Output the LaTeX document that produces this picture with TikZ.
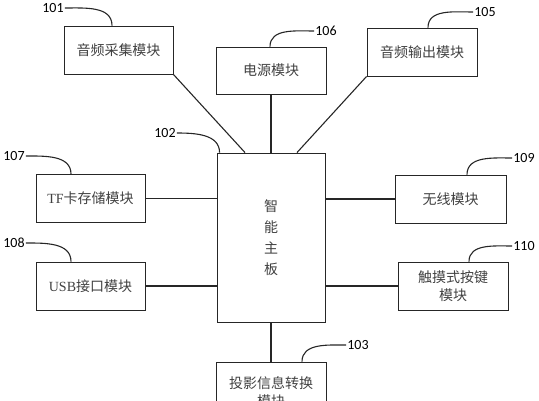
\documentclass[tikz,border=0pt]{standalone}
\usepackage{fontspec}
\setmainfont{Liberation Serif}
\newfontfamily\cjk{Noto Sans CJK SC}
\newfontfamily\numfont{Carlito}
\begin{document}
\begin{tikzpicture}[x=1pt,y=-1pt,
  box/.style={draw=black!85, line width=0.9pt, minimum width=109pt, minimum height=48pt, inner sep=1pt, align=center, font=\cjk\fontsize{14}{18}\selectfont, text=black!75},
  lbl/.style={font=\numfont\fontsize{14}{14}\selectfont, inner sep=1pt},
  conn/.style={line width=1.1pt, black!85},
  lead/.style={line width=1.1pt, black!85}]
\useasboundingbox (0,0) rectangle (539,400);
\begin{scope}
\clip (0,0) rectangle (539,400);
% boxes
\node[box] (b101) at (118.5,50) {音频采集模块};
\node[box, minimum width=110pt, minimum height=47pt] (b106) at (271,70.5) {电源模块};
\node[box, minimum width=110pt] (b105) at (422,52) {音频输出模块};
\node[box, minimum width=108pt, minimum height=169pt, font=\cjk\fontsize{14}{21}\selectfont] (main) at (271,237.5) {智\\能\\主\\板};
\node[box] (b107) at (90.5,198.5) {{\rmfamily TF}卡存储模块};
\node[box] (b108) at (90.5,286) {{\rmfamily USB}接口模块};
\node[box, minimum width=111pt] (b109) at (450.5,199) {无线模块};
\node[box, minimum width=110pt] (b110) at (453,286) {触摸式按键\\模块};
\node[box, minimum width=110pt, minimum height=60pt] (b103) at (271,392) {投影信息转换\\模块};
% labels
\node[lbl] (l101) at (53,8) {101};
\node[lbl] (l106) at (326,31) {106};
\node[lbl] (l105) at (485,12) {105};
\node[lbl] (l102) at (165,133) {102};
\node[lbl] (l107) at (14,156) {107};
\node[lbl] (l108) at (14,243) {108};
\node[lbl] (l109) at (524,158) {109};
\node[lbl] (l110) at (524,246) {110};
\node[lbl] (l103) at (358,345) {103};
% connectors
\draw[conn] (b101.south east) -- ([xshift=-26pt]main.north);
\draw[conn] (b106.south) -- (main.north);
\draw[conn] (b105.south west) -- ([xshift=26pt]main.north);
\draw[conn] (b107.east) -- (b107.east -| main.west);
\draw[conn] (b108.east) -- (b108.east -| main.west);
\draw[conn] (b109.west) -- (b109.west -| main.east);
\draw[conn] (b110.west) -- (b110.west -| main.east);
\draw[conn] (main.south) -- (b103.north);
% leaders
\draw[lead] (l101.east) to[out=0,in=90] ([xshift=-6.5pt]b101.north);
\draw[lead] (l106.west) to[out=180,in=90] ([xshift=-1pt]b106.north);
\draw[lead] (l105.west) to[out=180,in=90] ([xshift=6pt]b105.north);
\draw[lead] (l102.east) to[out=0,in=90] ([xshift=3pt]main.north west);
\draw[lead] (l107.east) to[out=0,in=90] ([xshift=-19.5pt]b107.north);
\draw[lead] (l108.east) to[out=0,in=90] ([xshift=-19.5pt]b108.north);
\draw[lead] (l109.west) to[out=180,in=90] ([xshift=16.5pt]b109.north);
\draw[lead] (l110.west) to[out=180,in=90] ([xshift=16pt]b110.north);
\draw[lead] (l103.west) to[out=180,in=90] ([xshift=31pt]b103.north);
\end{scope}
\end{tikzpicture}
\end{document}
